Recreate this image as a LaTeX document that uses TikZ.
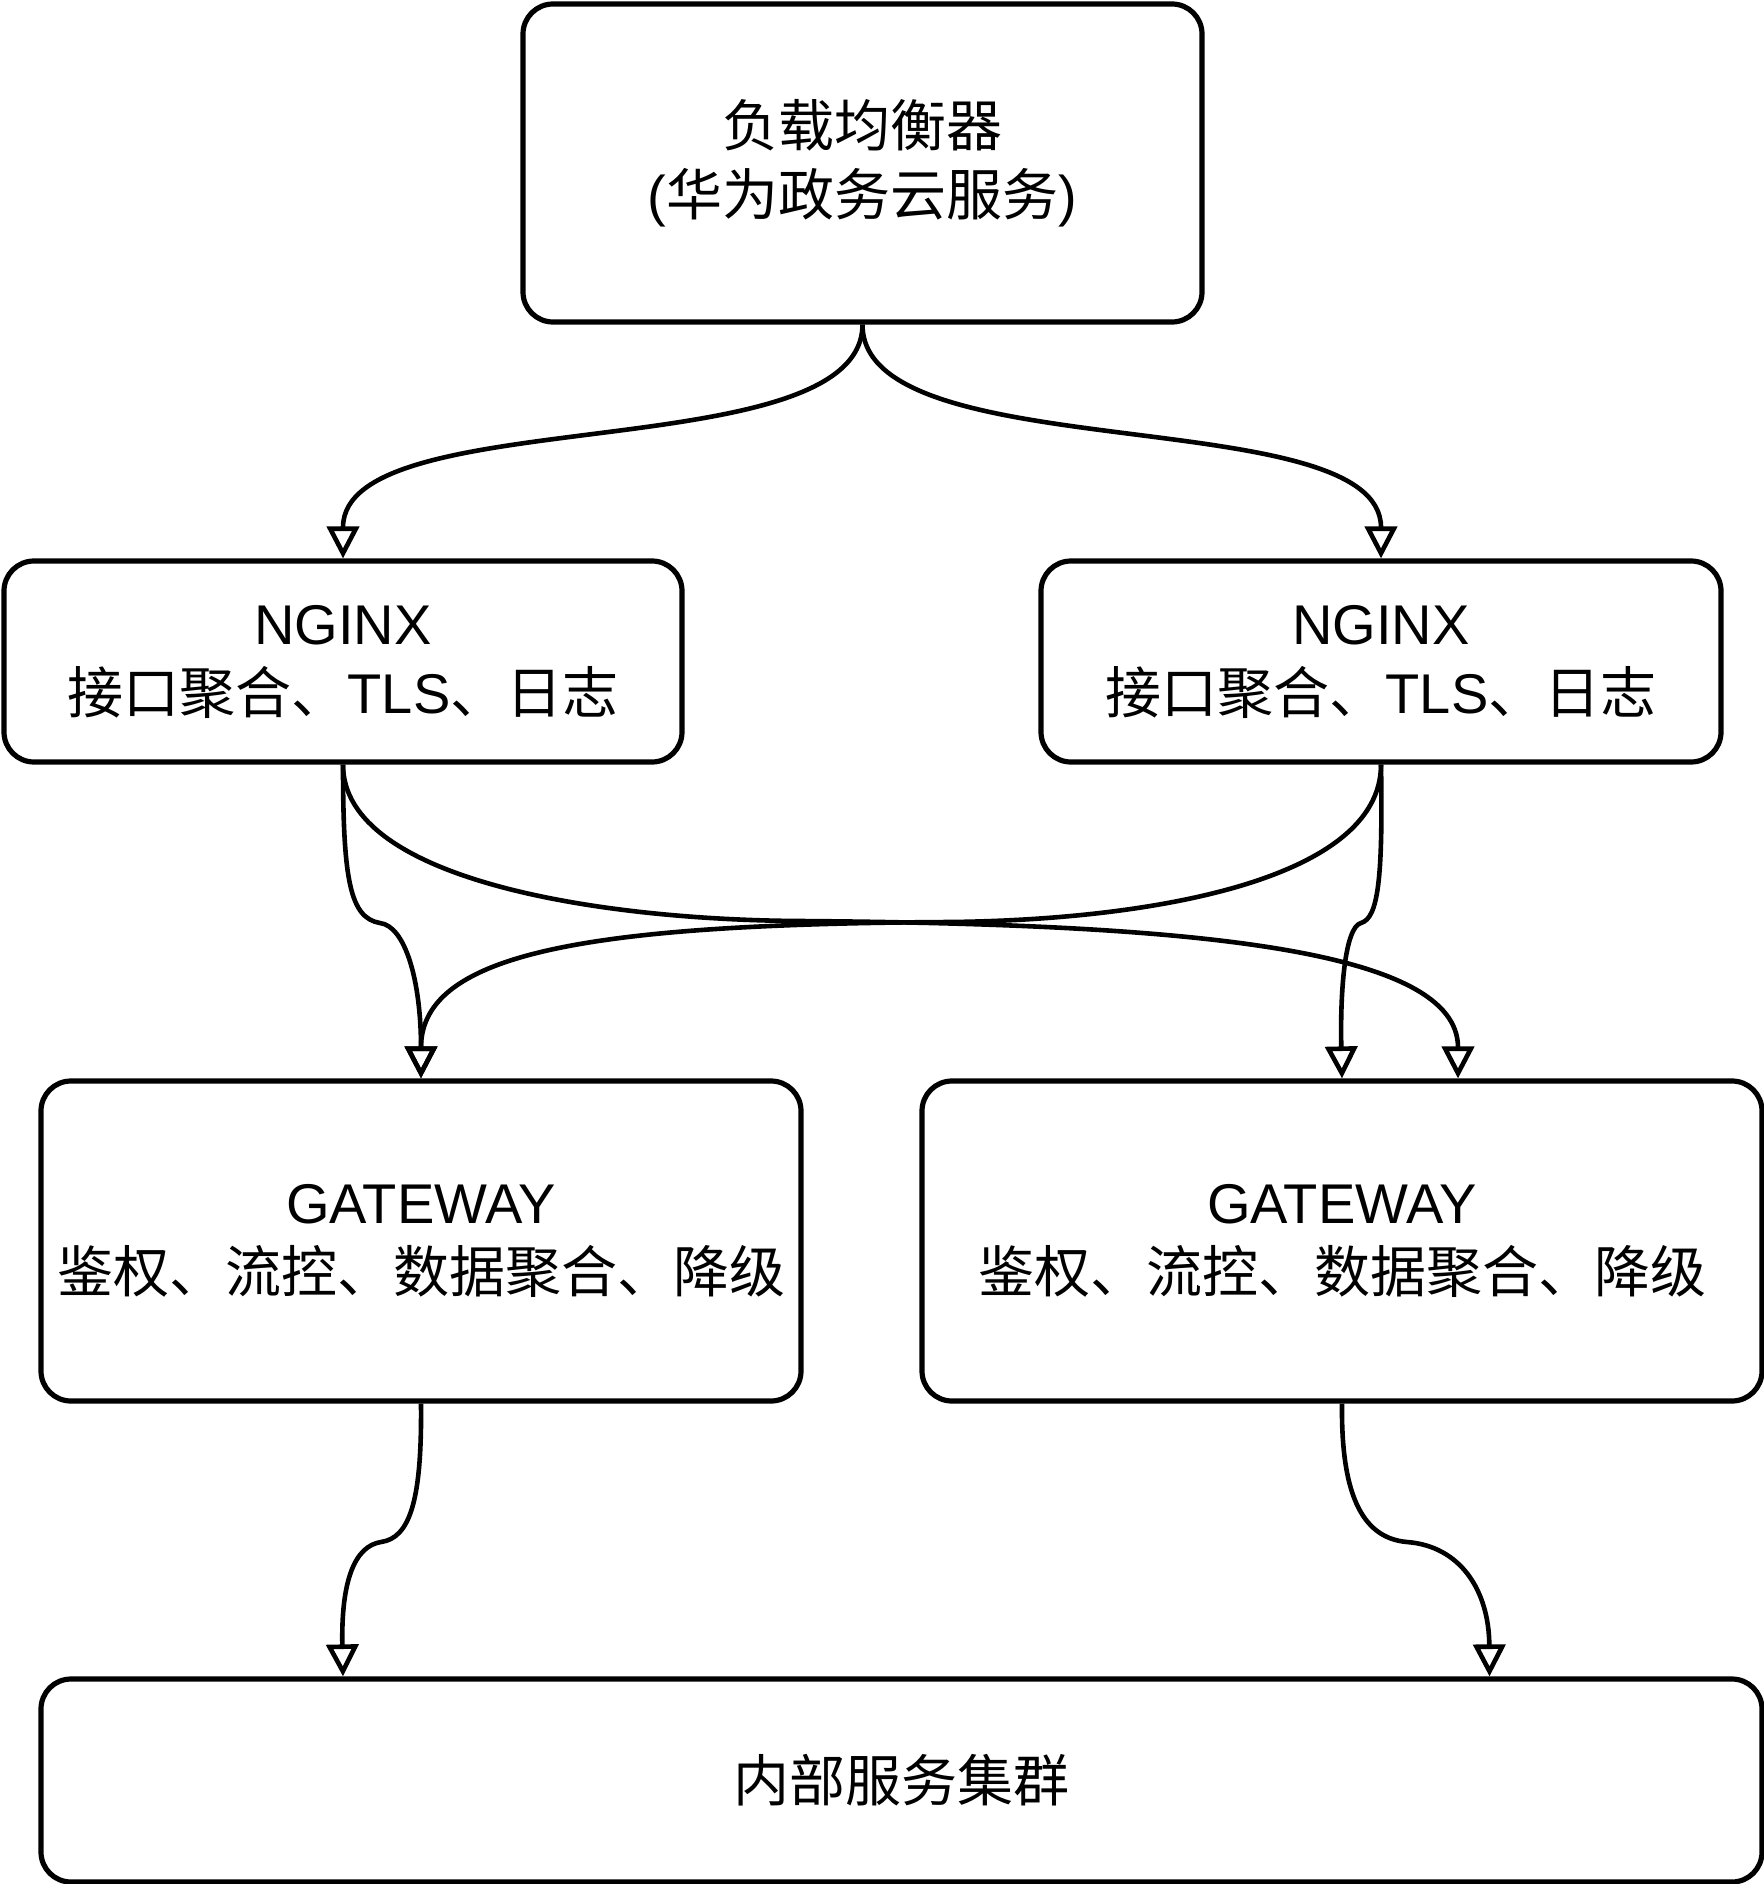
\documentclass[tikz,border=0pt]{standalone}
\usepackage{fontspec}
\setmainfont{Liberation Sans}
\newfontfamily\cjk{Noto Sans CJK SC}
\usetikzlibrary{arrows.meta,calc}

\tikzset{
  box/.style={draw, line width=2.6pt, rounded corners=15pt, align=center, inner sep=0pt,
    font=\fontsize{28}{34.5}\selectfont},
  link/.style={line width=2.3pt, -{Triangle[open,length=16pt,width=16pt]}}
}

\begin{document}
\begin{tikzpicture}[x=0.5pt,y=-0.5pt]
 \useasboundingbox (0,0) rectangle (1764,1884);

 % boxes
 \node[box, minimum width=339.5pt, minimum height=159pt] (lb) at (862.5,163)
   {{\cjk 负载均衡器}\\({\cjk 华为政务云服务})};
 \node[box, minimum width=339pt, minimum height=100.5pt] (ngxL) at (343,661.5)
   {NGINX\\{\cjk 接口聚合、}TLS{\cjk 、日志}};
 \node[box, minimum width=340pt, minimum height=100.5pt] (ngxR) at (1381,661.5)
   {NGINX\\{\cjk 接口聚合、}TLS{\cjk 、日志}};
 \node[box, minimum width=380pt, minimum height=160pt] (gwL) at (421,1241)
   {GATEWAY\\{\cjk 鉴权、流控、数据聚合、降级}};
 \node[box, minimum width=420pt, minimum height=160pt] (gwR) at (1342,1241)
   {GATEWAY\\{\cjk 鉴权、流控、数据聚合、降级}};
 \node[box, minimum width=860.5pt, minimum height=101.5pt] (svc) at (901.5,1780.5)
   {{\cjk 内部服务集群}};

 % arrow ends
 \coordinate (gwRin) at ($(gwR.north)+(116,0)$);
 \coordinate (svcL) at (svc.north -| ngxL.south);
 \coordinate (svcR) at ($(svc.north)+(588,0)$);

 % load balancer to nginx
 \draw[link] (lb.south) .. controls (862,470) and (343,400) .. (ngxL.north);
 \draw[link] (lb.south) .. controls (862,470) and (1381,400) .. (ngxR.north);

 % nginx to gateway
 \draw[link] (ngxL.south) .. controls (343,880) and (350,918) .. (380,923)
   .. controls (405,926) and (421,980) .. (gwL.north);
 \draw[link] (ngxL.south) .. controls (343,880) and (600,920) .. (800,921)
   .. controls (1200,924) and (1458,950) .. (gwRin);
 \draw[link] (ngxR.south) .. controls (1381,880) and (1150,920) .. (950,922)
   .. controls (600,924) and (421,950) .. (gwL.north);
 \draw[link] (ngxR.south) .. controls (1383,880) and (1378,918) .. (1361,923)
   .. controls (1345,927) and (1340,990) .. (gwR.north);

 % gateway to services
 \draw[link] (gwL.south) .. controls (422,1500) and (410,1538) .. (381,1542)
   .. controls (355,1546) and (341,1580) .. (svcL);
 \draw[link] (gwR.south) .. controls (1341,1490) and (1360,1538) .. (1407,1542)
   .. controls (1460,1546) and (1489,1590) .. (svcR);
\end{tikzpicture}
\end{document}
